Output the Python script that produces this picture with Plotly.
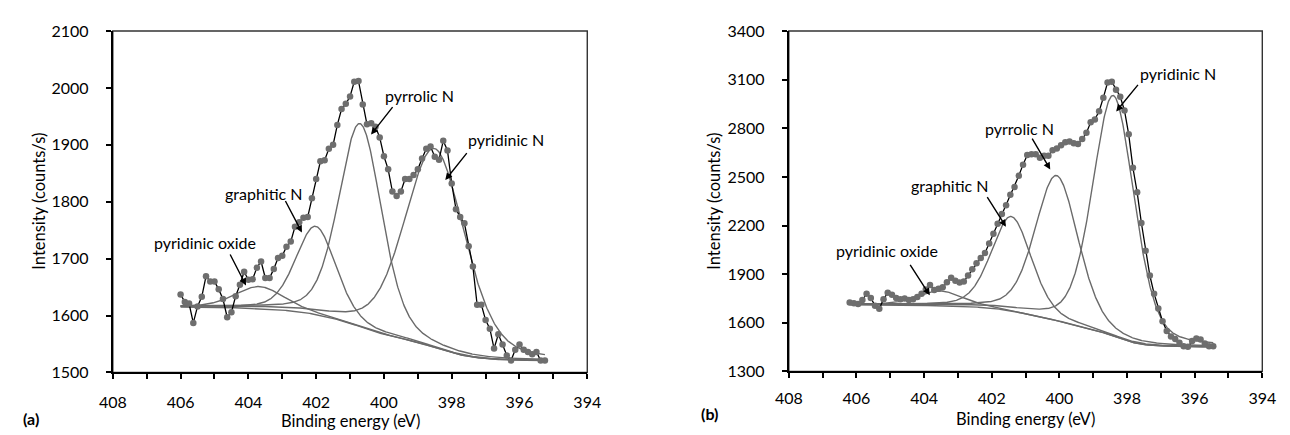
import numpy as np
import plotly.graph_objects as go

# ---------------- N 1s spectrum, sample (a) ----------------
be_a = [406.0, 405.875, 405.75, 405.625, 405.5, 405.375, 405.25, 405.125, 405.0, 404.875,
        404.75, 404.625, 404.5, 404.375, 404.25, 404.125, 404.0, 403.875, 403.75, 403.625,
        403.5, 403.375, 403.25, 403.125, 403.0, 402.875, 402.75, 402.625, 402.5, 402.375,
        402.25, 402.125, 402.0, 401.875, 401.75, 401.625, 401.5, 401.375, 401.25, 401.125,
        401.0, 400.875, 400.75, 400.625, 400.5, 400.375, 400.25, 400.125, 400.0, 399.875,
        399.75, 399.625, 399.5, 399.375, 399.25, 399.125, 399.0, 398.875, 398.75, 398.625,
        398.5, 398.375, 398.25, 398.125, 398.0, 397.875, 397.75, 397.625, 397.5, 397.375,
        397.25, 397.125, 397.0, 396.875, 396.75, 396.625, 396.5, 396.375, 396.25, 396.125,
        396.0, 395.875, 395.75, 395.625, 395.5, 395.375, 395.25]
cps_a = [1637, 1624, 1621, 1587, 1616, 1633, 1669, 1660, 1660, 1646,
         1629, 1597, 1606, 1634, 1654, 1677, 1663, 1664, 1684, 1695,
         1666, 1666, 1682, 1701, 1705, 1721, 1730, 1756, 1764, 1772,
         1773, 1806, 1840, 1871, 1873, 1893, 1900, 1935, 1963, 1972,
         1985, 2011, 2012, 1971, 1936, 1938, 1932, 1913, 1880, 1857,
         1818, 1810, 1818, 1840, 1840, 1847, 1857, 1876, 1893, 1897,
         1879, 1874, 1907, 1890, 1832, 1787, 1773, 1762, 1722, 1686,
         1619, 1619, 1592, 1577, 1542, 1567, 1549, 1530, 1521, 1540,
         1549, 1540, 1536, 1532, 1536, 1521, 1521]

# fitted components: pyridinic oxide, graphitic N, pyrrolic N, pyridinic N
centre_a = [403.67, 402.01, 400.70, 398.50]
height_a = [39, 155, 357, 350]
fwhm_a = [1.7, 1.4, 1.5, 2.1]
bg_ends_a = [1615, 1521]          # Shirley background at high / low BE end

# ---------------- N 1s spectrum, sample (b) ----------------
be_b = [406.2, 406.075, 405.95, 405.825, 405.7, 405.575, 405.45, 405.325, 405.2, 405.075,
        404.95, 404.825, 404.7, 404.575, 404.45, 404.325, 404.2, 404.075, 403.95, 403.825,
        403.7, 403.575, 403.45, 403.325, 403.2, 403.075, 402.95, 402.825, 402.7, 402.575,
        402.45, 402.325, 402.2, 402.075, 401.95, 401.825, 401.7, 401.575, 401.45, 401.325,
        401.2, 401.075, 400.95, 400.825, 400.7, 400.575, 400.45, 400.325, 400.2, 400.075,
        399.95, 399.825, 399.7, 399.575, 399.45, 399.325, 399.2, 399.075, 398.95, 398.825,
        398.7, 398.575, 398.45, 398.325, 398.2, 398.075, 397.95, 397.825, 397.7, 397.575,
        397.45, 397.325, 397.2, 397.075, 396.95, 396.825, 396.7, 396.575, 396.45, 396.325,
        396.2, 396.075, 395.95, 395.825, 395.7, 395.575, 395.45]
cps_b = [1726, 1721, 1717, 1741, 1780, 1754, 1705, 1687, 1746, 1785,
         1774, 1754, 1746, 1750, 1741, 1746, 1760, 1780, 1805, 1833,
         1803, 1810, 1819, 1850, 1878, 1860, 1849, 1855, 1892, 1930,
         1967, 2000, 2031, 2090, 2150, 2212, 2271, 2326, 2390, 2438,
         2507, 2576, 2635, 2640, 2640, 2619, 2630, 2630, 2665, 2675,
         2695, 2714, 2719, 2708, 2704, 2734, 2773, 2837, 2855, 2905,
         2989, 3082, 3087, 3038, 2995, 2910, 2763, 2556, 2405, 2216,
         2045, 1892, 1780, 1688, 1610, 1550, 1516, 1500, 1478, 1455,
         1452, 1488, 1503, 1498, 1472, 1456, 1455]

centre_b = [403.53, 401.42, 400.08, 398.40]
height_b = [92, 583, 895, 1485]
fwhm_b = [1.6, 1.4, 1.5, 1.45]
bg_ends_b = [1712, 1452]

labels = ["pyridinic oxide", "graphitic N", "pyrrolic N", "pyridinic N"]

FONT = "Lato"
DOT = "#6e6e6e"
FIT = "#6a6a6a"
W, H = 1290, 435


def gauss_lorentz(e, c, h, w, mix=0.3):
    x = (e - c) / (w / 2.0)
    return h * ((1 - mix) * np.exp(-np.log(2) * x ** 2) + mix / (1 + x ** 2))


def fit_curves(e_hi, e_lo, centres, heights, widths, bg_ends):
    e = np.linspace(e_hi, e_lo, 700)
    peaks = [gauss_lorentz(e, c, h, w) for c, h, w in zip(centres, heights, widths)]
    total = np.sum(peaks, axis=0)
    # Shirley-type background: step follows the integrated peak area from the low-BE side
    er, tr = e[::-1], total[::-1]
    cum = np.concatenate([[0.0], np.cumsum(0.5 * (tr[1:] + tr[:-1]) * np.diff(er))])[::-1]
    bg = bg_ends[1] + (bg_ends[0] - bg_ends[1]) * cum / cum[0]
    return e, bg, [bg + p for p in peaks]


fig = go.Figure()

panels = [
    dict(xa="x", ya="y", be=be_a, cps=cps_a, c=centre_a, h=height_a, w=fwhm_a, bg=bg_ends_a),
    dict(xa="x2", ya="y2", be=be_b, cps=cps_b, c=centre_b, h=height_b, w=fwhm_b, bg=bg_ends_b),
]

for p in panels:
    e, bg, comps = fit_curves(p["be"][0], p["be"][-1], p["c"], p["h"], p["w"], p["bg"])
    fig.add_trace(go.Scatter(x=e, y=bg, mode="lines", line=dict(color=FIT, width=1.4),
                             xaxis=p["xa"], yaxis=p["ya"], showlegend=False, hoverinfo="skip"))
    for name, comp in zip(labels, comps):
        fig.add_trace(go.Scatter(x=e, y=comp, mode="lines", name=name,
                                 line=dict(color=FIT, width=1.4),
                                 xaxis=p["xa"], yaxis=p["ya"], showlegend=False))
    fig.add_trace(go.Scatter(x=p["be"], y=p["cps"], mode="lines+markers", name="N 1s",
                             line=dict(color="black", width=1.3),
                             marker=dict(color=DOT, size=6.5),
                             xaxis=p["xa"], yaxis=p["ya"], showlegend=False))

# plot-area boxes in pixels: left, right, top, bottom
box_a = (101, 586, 22, 379)
box_b = (792, 1276, 22, 378)


def xdom(b):
    return [b[0] / W, b[1] / W]


def ydom(b):
    return [1 - b[3] / H, 1 - b[2] / H]


tickfont = dict(family=FONT, size=16, color="black")


def x_axis(box, yref, standoff):
    return dict(domain=xdom(box), anchor=yref, range=[408, 394], tick0=394, dtick=2,
                ticks="outside", ticklen=5, tickwidth=1.5, tickcolor="black", showline=True,
                linecolor="black", linewidth=2, showgrid=False, zeroline=False,
                tickfont=tickfont, ticklabelstandoff=standoff,
                minor=dict(dtick=1, ticks="outside", ticklen=5, tickwidth=1.5, tickcolor="black"))


common_y = dict(ticks="outside", ticklen=5, tickwidth=1.5, tickcolor="black", showline=True,
                linecolor="black", linewidth=2, showgrid=False, zeroline=False,
                tickfont=tickfont, ticklabelstandoff=14)

fig.update_layout(
    width=W, height=H, margin=dict(l=0, r=0, t=0, b=0),
    paper_bgcolor="white", plot_bgcolor="white",
    font=dict(family=FONT, size=15, color="black"),
    xaxis=x_axis(box_a, "y", 9),
    yaxis=dict(domain=ydom(box_a), anchor="x", range=[1500, 2100], tick0=1500, dtick=100, **common_y),
    xaxis2=x_axis(box_b, "y2", 6),
    yaxis2=dict(domain=ydom(box_b), anchor="x2", range=[1300, 3400], tick0=1300, dtick=300, **common_y),
)

# thin frame around each plot area
for b in (box_a, box_b):
    fig.add_shape(type="rect", xref="paper", yref="paper", x0=b[0] / W, x1=b[1] / W,
                  y0=1 - b[3] / H, y1=1 - b[2] / H, line=dict(color="#333333", width=1.4),
                  layer="below")

ann = []
# peak labels (data coordinates) and arrows
peak_text = {
    "x": [("pyrrolic N", 398.96, 1986), ("pyridinic N", 396.4, 1910),
          ("graphitic N", 403.53, 1814), ("pyridinic oxide", 405.29, 1729)],
    "x2": [("pyridinic N", 396.49, 3135), ("pyrrolic N", 401.17, 2798),
           ("graphitic N", 403.23, 2450), ("pyridinic oxide", 405.11, 2049)],
}
peak_arrows = {
    "x": [(399.71, 1969, 400.38, 1918), (397.52, 1888, 398.19, 1838),
          (402.93, 1804, 402.42, 1746), (404.56, 1710, 404.07, 1653)],
    "x2": [(397.64, 3077, 398.32, 2904), (400.83, 2745, 400.27, 2546),
           (402.16, 2385, 401.58, 2193), (404.44, 1967, 403.83, 1770)],
}
for xr, yr in (("x", "y"), ("x2", "y2")):
    for t, ex, iy in peak_text[xr]:
        ann.append(dict(text=t, x=ex, y=iy, xref=xr, yref=yr, showarrow=False,
                        xanchor="center", yanchor="middle",
                        font=dict(family=FONT, size=16, color="black")))
    for x0, y0, x1, y1 in peak_arrows[xr]:
        ann.append(dict(text="", x=x1, y=y1, ax=x0, ay=y0, xref=xr, yref=yr,
                        axref=xr, ayref=yr, showarrow=True, arrowhead=2, arrowsize=1,
                        arrowwidth=1.4, arrowcolor="black", standoff=0, startstandoff=0))

# axis titles (top edge of the text box given in pixels)
for b, top in ((box_a, 418), (box_b, 416)):
    cx = (b[0] + b[1]) / 2
    ann.append(dict(text="Binding energy (eV)", x=cx / W, y=1 - top / H, xref="paper", yref="paper",
                    showarrow=False, xanchor="center", yanchor="top", borderpad=0,
                    font=dict(family=FONT, size=16.5, color="black")))
for px in (26, 716):
    ann.append(dict(text="Intensity (counts/s)", x=px / W, y=1 - 200 / H, xref="paper", yref="paper",
                    showarrow=False, textangle=-90, xanchor="center", yanchor="middle",
                    font=dict(family=FONT, size=16.5, color="black")))

# panel letters
for txt, px, top in (("<b>(a)</b>", 17, 416), ("<b>(b)</b>", 711, 411)):
    ann.append(dict(text=txt, x=px / W, y=1 - top / H, xref="paper", yref="paper",
                    showarrow=False, xanchor="center", yanchor="top", borderpad=0,
                    font=dict(family=FONT, size=16, color="black")))

fig.update_layout(annotations=ann)
fig.write_html("out.html")
